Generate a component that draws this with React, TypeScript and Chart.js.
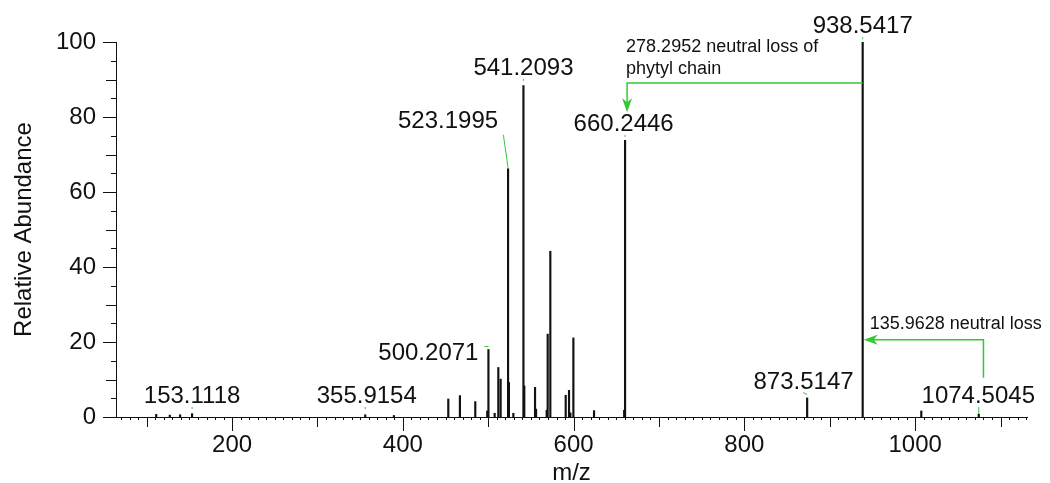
import React, { useEffect, useRef } from "react";
import { Chart, registerables } from "chart.js";

Chart.register(...registerables);

// ---------------- data ----------------
const peakMz = [
  111.1, 127.0, 139.1, 153.1118, 355.9154, 389.5,
  453.2, 466.8, 484.8, 498.8, 500.2071, 507.5, 511.8, 514.5,
  523.1995, 524.2, 529.4, 541.2093, 542.2, 554.8, 556.0,
  568.4, 569.6, 572.7, 590.7, 594.6, 596.2, 599.7, 623.9,
  659.2, 660.2446, 873.5147, 938.5417, 1007.2, 1074.5045,
];
const peakIntensity = [
  0.7, 0.5, 0.6, 0.9, 0.6, 0.4,
  4.8, 5.7, 4.1, 1.6, 18.0, 1.0, 13.2, 10.1,
  66.2, 9.2, 1.0, 88.4, 8.3, 7.9, 2.1,
  1.8, 22.1, 44.2, 5.8, 7.1, 1.1, 21.1, 1.7,
  1.8, 73.8, 5.1, 100, 1.6, 0.8,
];
const labeledMz = [153.1118, 355.9154, 500.2071, 523.1995, 541.2093, 660.2446, 873.5147, 938.5417, 1074.5045];
const xTickValues = [200, 400, 600, 800, 1000];
const yTickValues = [0, 20, 40, 60, 80, 100];
const xRange = [64, 1131];
const yRange = [0, 100];
const xTitle = "m/z";
const yTitle = "Relative Abundance";
const phytylLossLines = ["278.2952 neutral loss of", "phytyl chain"];
const phytylArrow = { fromMz: 938.5417, toMz: 662.6, level: 89.1, tipLevel: 81.3 };
const smallLossLines = ["135.9628 neutral loss"];
const smallArrow = { fromMz: 1080, toMz: 938.5417, level: 20.6, startLevel: 10.5 };

// ---------------- styles ----------------
const FONT = "'Liberation Sans', Arial, Helvetica, sans-serif";
const GREEN = "#33c933";
const INK = "#111111";

// placement of the peak labels (pixel offsets, aligned with labeledMz)
const labelPlacement = [
  { kind: "above", dx: 0, gap: 9, cdx: 0, clen: 2 },
  { kind: "above", dx: 1.5, gap: 9, cdx: 0, clen: 2 },
  { kind: "left", dx: -10, gap: -10, cdx: 0, clen: 0 },
  { kind: "slant", dx: -60, gap: 40.7, cdx: 0, clen: 0 },
  { kind: "above", dx: 0, gap: 10.7, cdx: 0, clen: 2 },
  { kind: "above", dx: -1.4, gap: 9.3, cdx: 0, clen: 2 },
  { kind: "above", dx: -3.6, gap: 9.3, cdx: -4, clen: 2 },
  { kind: "above", dx: 0, gap: 8.7, cdx: 0, clen: 2 },
  { kind: "above", dx: -0.5, gap: 9, cdx: 0, clen: 6 },
];

function arrowHead(ctx: CanvasRenderingContext2D, tx: number, ty: number, dirX: number, dirY: number) {
  const len = 14, half = 5, notch = 10;
  const px = -dirY, py = dirX;
  ctx.beginPath();
  ctx.moveTo(tx, ty);
  ctx.lineTo(tx - dirX * len + px * half, ty - dirY * len + py * half);
  ctx.lineTo(tx - dirX * notch, ty - dirY * notch);
  ctx.lineTo(tx - dirX * len - px * half, ty - dirY * len - py * half);
  ctx.closePath();
  ctx.fill();
}

const spectrumPlugin = {
  id: "spectrumDecor",
  afterDraw(chart: any) {
    const { ctx } = chart;
    const x = chart.scales.x;
    const y = chart.scales.y;
    ctx.save();

    // axis tick marks
    ctx.strokeStyle = INK;
    ctx.lineWidth = 1;
    const startX = Math.ceil(x.min / 10);
    const endX = Math.floor(x.max / 10);
    for (let i = startX; i <= endX; i++) {
      const v = i * 10;
      const px = Math.round(x.getPixelForValue(v)) + 0.5;
      const len = v % 200 === 0 ? 14 : v % 100 === 0 ? 10 : 3;
      ctx.beginPath();
      ctx.moveTo(px, y.bottom);
      ctx.lineTo(px, y.bottom + len);
      ctx.stroke();
    }
    for (let i = 0; i <= 20; i++) {
      const v = i * 5;
      const py = Math.round(y.getPixelForValue(v)) + 0.5;
      const len = v % 20 === 0 ? 13 : v % 10 === 0 ? 10 : 5;
      ctx.beginPath();
      ctx.moveTo(x.left - len, py);
      ctx.lineTo(x.left, py);
      ctx.stroke();
    }

    // peak labels
    const floor = y.getPixelForValue(0) - 14;
    ctx.font = `24px ${FONT}`;
    ctx.fillStyle = INK;
    ctx.textBaseline = "alphabetic";
    labeledMz.forEach((mz, i) => {
      const idx = peakMz.indexOf(mz);
      const h = peakIntensity[idx];
      const px = x.getPixelForValue(mz);
      const py = y.getPixelForValue(h);
      const pl = labelPlacement[i];
      const text = mz.toFixed(4);
      ctx.strokeStyle = GREEN;
      ctx.lineWidth = 1;
      if (pl.kind === "above") {
        const ty = Math.min(py - pl.gap, floor);
        ctx.textAlign = "center";
        ctx.fillText(text, px + pl.dx, ty);
        ctx.beginPath();
        ctx.moveTo(px + pl.cdx, ty + 4);
        ctx.lineTo(px, ty + 4 + pl.clen);
        ctx.stroke();
      } else if (pl.kind === "slant") {
        const ty = py - pl.gap;
        ctx.textAlign = "center";
        ctx.fillText(text, px + pl.dx, ty);
        ctx.beginPath();
        ctx.moveTo(px - 4.7, ty + 6.7);
        ctx.lineTo(px, py - 1);
        ctx.stroke();
      } else {
        const ty = py - pl.gap;
        ctx.textAlign = "right";
        ctx.fillText(text, px + pl.dx, ty);
        ctx.beginPath();
        ctx.moveTo(px - 4, py - 3);
        ctx.lineTo(px, py - 3);
        ctx.stroke();
      }
    });

    // neutral loss annotations
    ctx.strokeStyle = GREEN;
    ctx.fillStyle = GREEN;
    ctx.lineWidth = 1.5;
    {
      const x0 = x.getPixelForValue(phytylArrow.fromMz);
      const x1 = x.getPixelForValue(phytylArrow.toMz);
      const yl = y.getPixelForValue(phytylArrow.level);
      const yt = y.getPixelForValue(phytylArrow.tipLevel);
      ctx.beginPath();
      ctx.moveTo(x0, yl);
      ctx.lineTo(x1, yl);
      ctx.lineTo(x1, yt - 8);
      ctx.stroke();
      arrowHead(ctx, x1, yt, 0, 1);
      ctx.fillStyle = INK;
      ctx.font = `18px ${FONT}`;
      ctx.textAlign = "left";
      ctx.fillText(phytylLossLines[0], x1 - 1, yl - 31);
      ctx.fillText(phytylLossLines[1], x1 - 1, yl - 9);
    }
    ctx.fillStyle = GREEN;
    {
      const x0 = x.getPixelForValue(smallArrow.fromMz);
      const x1 = x.getPixelForValue(smallArrow.toMz);
      const yl = y.getPixelForValue(smallArrow.level);
      const ys = y.getPixelForValue(smallArrow.startLevel);
      ctx.beginPath();
      ctx.moveTo(x0, ys);
      ctx.lineTo(x0, yl);
      ctx.lineTo(x1 + 8, yl);
      ctx.stroke();
      arrowHead(ctx, x1 + 1, yl, -1, 0);
      ctx.fillStyle = INK;
      ctx.font = `18px ${FONT}`;
      ctx.textAlign = "left";
      ctx.fillText(smallLossLines[0], x1 + 7, yl - 11);
    }
    ctx.restore();
  },
};

export default function App() {
  const ref = useRef<HTMLCanvasElement | null>(null);
  useEffect(() => {
    const canvas = ref.current;
    if (!canvas) return;
    const chart = new Chart(canvas, {
      type: "bar",
      data: {
        datasets: [
          {
            data: peakMz.map((m, i) => ({ x: m, y: peakIntensity[i] })),
            backgroundColor: INK,
            borderWidth: 0,
            barThickness: 1.5,
            grouped: false,
          } as any,
        ],
      },
      options: {
        responsive: false,
        animation: false,
        devicePixelRatio: 1,
        layout: { padding: { top: 42, right: 23, bottom: 0, left: 0 } },
        plugins: {
          legend: { display: false },
          tooltip: { enabled: false },
        },
        scales: {
          x: {
            type: "linear",
            min: xRange[0],
            max: xRange[1],
            offset: false,
            grid: { display: false, drawTicks: false, tickLength: 0 },
            border: { display: true, color: INK, width: 1 },
            ticks: {
              font: { family: FONT, size: 24 },
              color: INK,
              padding: 14,
              maxRotation: 0,
              autoSkip: false,
              callback: (v: any) => String(v),
            },
            afterBuildTicks: (s: any) => {
              s.ticks = xTickValues.map((v) => ({ value: v }));
            },
            afterFit: (s: any) => {
              s.height = 66;
            },
            title: {
              display: true,
              text: xTitle,
              color: INK,
              font: { family: FONT, size: 24 },
              padding: { top: 0, bottom: -5 },
            },
          },
          y: {
            type: "linear",
            min: yRange[0],
            max: yRange[1],
            grid: { display: false, drawTicks: false, tickLength: 0 },
            border: { display: true, color: INK, width: 1 },
            ticks: {
              font: { family: FONT, size: 24 },
              color: INK,
              padding: 20,
              callback: (v: any) => String(v),
            },
            afterBuildTicks: (s: any) => {
              s.ticks = yTickValues.map((v) => ({ value: v }));
            },
            afterFit: (s: any) => {
              s.width = 116;
            },
            title: {
              display: true,
              text: yTitle,
              color: INK,
              font: { family: FONT, size: 24 },
              padding: { top: 10, bottom: 0 },
            },
          },
        },
      } as any,
      plugins: [spectrumPlugin],
    });
    return () => chart.destroy();
  }, []);
  return (
    <div style={{ position: "absolute", left: 0, top: 0, width: 1050, height: 483, background: "#fff" }}>
      <canvas ref={ref} width={1050} height={483} style={{ display: "block" }} />
    </div>
  );
}
